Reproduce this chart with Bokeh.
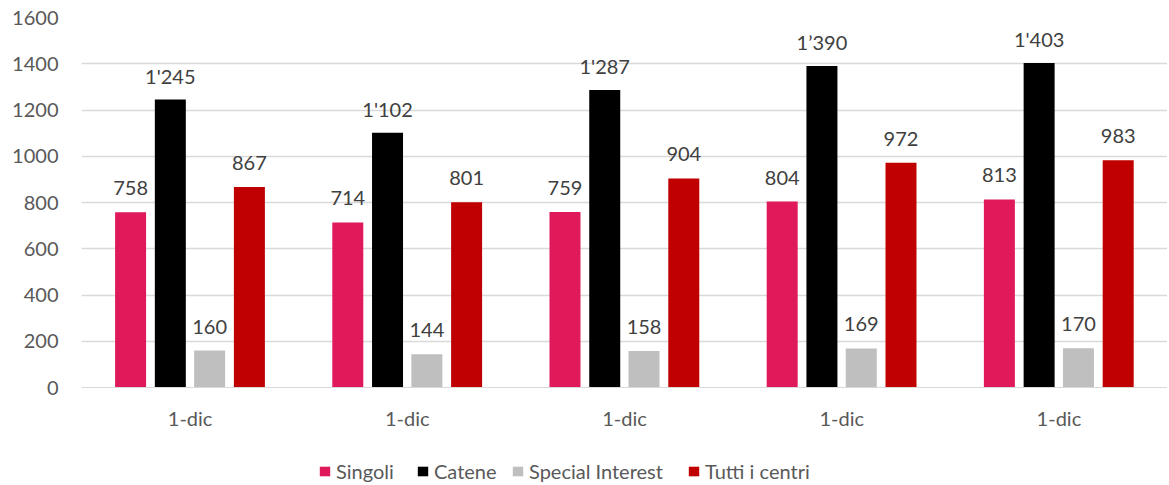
from bokeh.plotting import figure
from bokeh.models import ColumnDataSource, FixedTicker, Legend, LegendItem, Range1d
from bokeh.layouts import column
from bokeh.core.properties import value
from bokeh.embed import file_html
from bokeh.resources import INLINE

groups = ["1-dic", "1-dic", "1-dic", "1-dic", "1-dic"]
series = ["Singoli", "Catene", "Special Interest", "Tutti i centri"]
singoli = [758, 714, 759, 804, 813]
catene = [1245, 1102, 1287, 1390, 1403]
special = [160, 144, 158, 169, 170]
tutti = [867, 801, 904, 972, 983]
catene_labels = ["1'245", "1'102", "1'287", "1\u2019390", "1'403"]
colors = ["#E0195A", "#000000", "#BFBFBF", "#C00000"]
y_ticks = [0, 200, 400, 600, 800, 1000, 1200, 1400, 1600]

FONT = "Lato"

p = figure(frame_width=1086, frame_height=370, output_backend="svg", toolbar_location=None,
           x_range=Range1d(0, len(groups)), y_range=Range1d(0, 1600),
           min_border_left=81, min_border_top=17, min_border_right=0, min_border_bottom=48)
p.outline_line_color = None
p.background_fill_color = "white"
p.border_fill_color = "white"

offsets = [-0.274, -0.091, 0.090, 0.273]
all_vals = [singoli, catene, special, tutti]
for i, (vals, col) in enumerate(zip(all_vals, colors)):
    xs = [g + 0.5 + offsets[i] for g in range(len(groups))]
    if i == 1:
        labels = catene_labels
    else:
        labels = [str(v) for v in vals]
    src = ColumnDataSource(dict(x=xs, top=vals, label=labels))
    p.vbar(x="x", top="top", width=0.1427, source=src, fill_color=col, line_color=None)
    p.text(x="x", y="top", text="label", source=src, text_align="center",
           text_baseline="alphabetic", y_offset=-24, text_font=value(FONT),
           text_font_size="20px", text_color="#404040")

p.xaxis.ticker = FixedTicker(ticks=[g + 0.5 for g in range(len(groups))])
p.xaxis.major_label_overrides = {g + 0.5: lab for g, lab in enumerate(groups)}
p.xaxis.major_tick_line_color = None
p.xaxis.minor_tick_line_color = None
p.xaxis.axis_line_color = "#D9D9D9"
p.xaxis.major_label_text_font = FONT
p.xaxis.major_label_text_font_size = "20px"
p.xaxis.major_label_text_color = "#595959"
p.xaxis.major_label_standoff = 12

p.yaxis.ticker = FixedTicker(ticks=y_ticks)
p.yaxis.axis_line_color = None
p.yaxis.major_tick_line_color = None
p.yaxis.minor_tick_line_color = None
p.yaxis.major_label_text_font = FONT
p.yaxis.major_label_text_font_size = "20px"
p.yaxis.major_label_text_color = "#595959"
p.yaxis.major_label_standoff = 17

p.xgrid.grid_line_color = None
p.ygrid.grid_line_color = "#D9D9D9"
p.ygrid.grid_line_width = 1.5

# legend strip (frame aligned with the main plot's frame)
lg = figure(width=1167, height=48, output_backend="svg", toolbar_location=None,
            x_range=Range1d(0, 1), y_range=Range1d(0, 1),
            min_border=0, x_axis_type=None, y_axis_type=None)
lg.outline_line_color = None
lg.xgrid.grid_line_color = None
lg.ygrid.grid_line_color = None
legend_x = [237, 335, 430, 606]
for s, col, lx in zip(series, colors, legend_x):
    r = lg.vbar(x=[0.5], top=[0], width=0.0001, fill_color=col, line_color=None)
    leg = Legend(items=[LegendItem(label=s, renderers=[r])], location=(lx, 0),
                 label_text_font=FONT, label_text_font_size="20px",
                 label_text_color="#595959", glyph_width=13, glyph_height=12,
                 label_height=20, label_standoff=5, border_line_color=None,
                 background_fill_alpha=0, padding=0, margin=0)
    lg.add_layout(leg)

layout = column(p, lg, spacing=0)
open("out.html", "w").write(file_html(layout, INLINE))
